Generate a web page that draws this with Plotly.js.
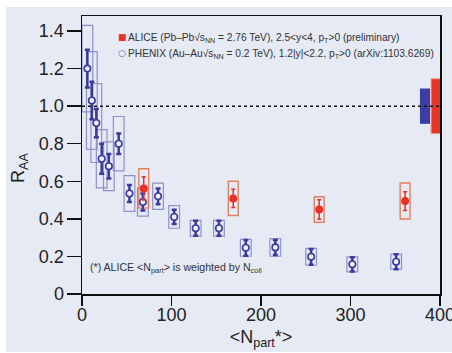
<!DOCTYPE html>
<html><head><meta charset="utf-8">
<script src="https://cdn.plot.ly/plotly-3.0.1.min.js"></script>
<style>html,body{margin:0;padding:0;background:#fff;overflow:hidden}#chart{position:absolute;left:6px;top:7px;width:446px;height:345px;}</style>
</head><body><div id="chart"></div>
<script>
// PHENIX (Au-Au, 0.2 TeV, forward rapidity)
const phenixNpart = [6, 11, 16, 22, 30, 41, 53, 68, 85, 103, 127, 153, 183, 216, 256, 302, 351];
const phenixRAA   = [1.20, 1.03, 0.91, 0.72, 0.68, 0.80, 0.535, 0.49, 0.52, 0.41, 0.35, 0.35, 0.246, 0.248, 0.198, 0.158, 0.172];
const phenixStat  = [0.10, 0.10, 0.075, 0.08, 0.065, 0.055, 0.045, 0.045, 0.042, 0.038, 0.04, 0.04, 0.042, 0.04, 0.042, 0.038, 0.04];
const phenixSyst  = [0.23, 0.26, 0.21, 0.155, 0.13, 0.145, 0.095, 0.075, 0.07, 0.06, 0.042, 0.042, 0.045, 0.047, 0.045, 0.04, 0.04];
// ALICE (Pb-Pb, 2.76 TeV, preliminary)
const aliceNpart = [69, 169, 265, 361];
const aliceRAA   = [0.562, 0.509, 0.45, 0.495];
const aliceStat  = [0.062, 0.048, 0.052, 0.05];
const aliceSyst  = [0.105, 0.091, 0.068, 0.096];
// global normalisation uncertainties (drawn at right edge)
const normCenter = 1.0;
const normPhenix = 0.094;
const normAlice  = 0.146;
const normPhenixX = [377.6, 388.8];
const normAliceX  = [390, 400.8];
const yTickVals = [0, 0.2, 0.4, 0.6, 0.8, 1.0, 1.2, 1.4];
const yTickText = ["0", "0.2", "0.4", "0.6", "0.8", "1.0", "1.2", "1.4"];
const xTickVals = [0, 100, 200, 300, 400];

const BLUE = '#3b3b9c', BOX_BLUE = '#9090c8', RED = '#e8302a', BOX_RED = '#e6805c';
const BG = '#e6eaf5';
const boxHalfW = 6;

const shapes = [];
phenixNpart.forEach((n, i) => shapes.push({type:'rect', xref:'x', yref:'y', layer:'below',
  x0:n-boxHalfW, x1:n+boxHalfW, y0:phenixRAA[i]-phenixSyst[i], y1:phenixRAA[i]+phenixSyst[i],
  line:{color:BOX_BLUE, width:1.2}, fillcolor:'rgba(0,0,0,0)'}));
aliceNpart.forEach((n, i) => shapes.push({type:'rect', xref:'x', yref:'y', layer:'below',
  x0:n-5.5, x1:n+5.5, y0:aliceRAA[i]-aliceSyst[i], y1:aliceRAA[i]+aliceSyst[i],
  line:{color:BOX_RED, width:1.4}, fillcolor:'rgba(0,0,0,0)'}));
shapes.push({type:'rect', xref:'x', yref:'y', layer:'below', x0:normPhenixX[0], x1:normPhenixX[1],
  y0:normCenter-normPhenix, y1:normCenter+normPhenix, line:{width:0}, fillcolor:'#3a3ea2'});
shapes.push({type:'rect', xref:'x', yref:'y', layer:'below', x0:normAliceX[0], x1:normAliceX[1],
  y0:normCenter-normAlice, y1:normCenter+normAlice, line:{color:'#f29a85', width:1}, fillcolor:'#e8352b'});
shapes.push({type:'line', xref:'paper', yref:'y', x0:0, x1:1, y0:normCenter, y1:normCenter,
  line:{color:'#111', width:1.5, dash:'dot'}});

const traces = [
  {type:'scatter', mode:'markers', x:phenixNpart, y:phenixRAA,
   error_y:{type:'data', array:phenixStat, visible:true, color:BLUE, thickness:2.5, width:2.5},
   marker:{symbol:'circle', size:6.5, color:'#eef0fa', line:{color:BLUE, width:1.6}}, showlegend:false},
  {type:'scatter', mode:'markers', x:aliceNpart, y:aliceRAA,
   error_y:{type:'data', array:aliceStat, visible:true, color:RED, thickness:1.5, width:2},
   marker:{symbol:'circle', size:8, color:RED}, showlegend:false}
];

const px = v => (v - 82) / 358, py = v => (294 - v) / 278;
const legFont = {family:'Liberation Sans, Arial, sans-serif', size:10.2, color:'#333'};
const noteFont = {family:'Liberation Sans, Arial, sans-serif', size:10.6, color:'#333'};
const axisFont = {family:'Liberation Sans, Arial, sans-serif', size:18, color:'#222'};
const annotations = [
  {xref:'paper', yref:'paper', x:px(116), y:py(29.5), text:'■', showarrow:false, font:{family:'DejaVu Sans', size:9, color:RED}},
  {xref:'paper', yref:'paper', x:px(126), y:py(29.5), xanchor:'left', showarrow:false, font:legFont,
   text:'ALICE (Pb\u2013Pb\u221As<sub>NN</sub> = 2.76 TeV), 2.5&lt;y&lt;4, p<sub>T</sub>&gt;0 (preliminary)'},
  {xref:'paper', yref:'paper', x:px(116), y:py(45.5), text:'○', showarrow:false, font:{family:'DejaVu Sans', size:9, color:'#6a6ab0'}},
  {xref:'paper', yref:'paper', x:px(126), y:py(45.5), xanchor:'left', showarrow:false, font:legFont,
   text:'PHENIX (Au\u2013Au\u221As<sub>NN</sub> = 0.2 TeV), 1.2|y|&lt;2.2, p<sub>T</sub>&gt;0 (arXiv:1103.6269)'},
  {xref:'paper', yref:'paper', x:px(88), y:py(277), xanchor:'left', showarrow:false, font:noteFont,
   text:'(*) ALICE &lt;N<sub>part</sub>&gt; is weighted by N<sub>coll</sub>'},
  {xref:'paper', yref:'paper', x:px(20), y:py(168), xanchor:'center', yanchor:'middle', textangle:-90, showarrow:false, font:axisFont,
   text:'R<sub>AA</sub>'}
];

const layout = {
  width:446, height:345, margin:{l:76, r:12, t:9, b:58},
  paper_bgcolor:BG, plot_bgcolor:BG, showlegend:false,
  xaxis:{range:[0,400], tickvals:xTickVals, ticks:'outside', ticklen:10, tickwidth:1.5, tickcolor:'#111',
    showline:true, linecolor:'#111', linewidth:1.5, mirror:true, showgrid:false, zeroline:false,
    ticklabeloverflow:'allow', ticklabelstandoff:-6,
    tickfont:axisFont, title:{text:'&lt;N<sub>part</sub>*&gt;', font:axisFont, standoff:6}},
  yaxis:{range:[0,1.48], tickvals:yTickVals, ticktext:yTickText, ticks:'outside', ticklen:14, tickwidth:1.5, tickcolor:'#111',
    showline:true, linecolor:'#111', linewidth:1.5, mirror:true, showgrid:false, zeroline:false,
    ticklabelstandoff:-1, tickfont:axisFont},
  shapes:shapes, annotations:annotations
};
Plotly.newPlot('chart', traces, layout, {displayModeBar:false, staticPlot:true});
</script></body></html>
